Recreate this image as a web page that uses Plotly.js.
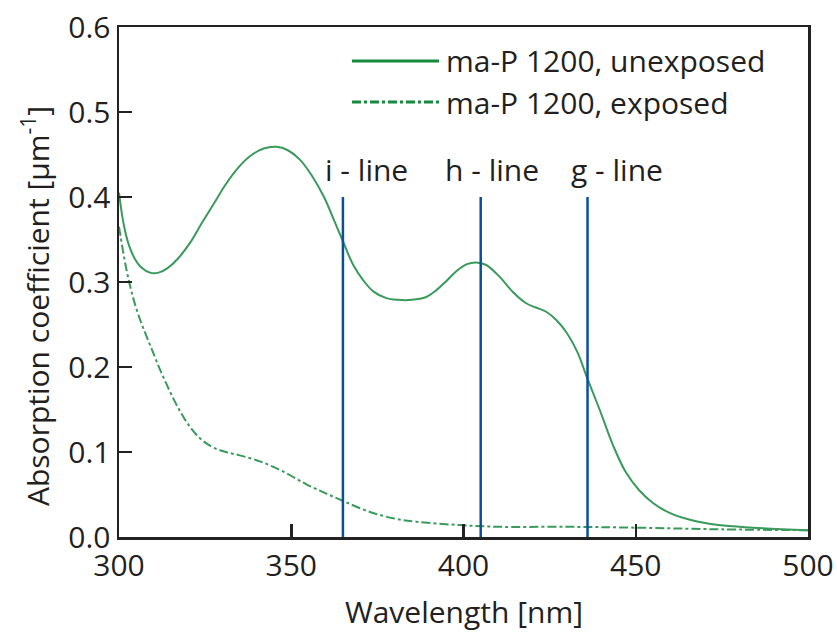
<!DOCTYPE html>
<html><head><meta charset="utf-8">
<script src="https://cdn.plot.ly/plotly-3.0.1.min.js"></script>
<style>html,body{margin:0;padding:0;background:#fff}#plot{width:837px;height:633px}</style>
</head><body><div id="plot"></div>
<script>
// Unexposed ma-P 1200 absorption spectrum
const wlUnexposed = [300, 301, 302, 303, 304.5, 306.5, 309, 311.5, 314, 317, 320.6, 324, 327.5, 331, 334.5, 338, 342, 345.7, 349, 352.5, 356, 359.5, 362.5, 365.3, 368, 370.9, 373.8, 377.6, 381, 385, 389, 392, 395, 398, 401, 403.7, 406.6, 410.5, 414.4, 418.2, 421, 424, 427, 430, 433, 436, 439.5, 443.4, 447, 451, 455, 460, 466, 474, 484, 500];
const absUnexposed = [0.405, 0.376, 0.356, 0.342, 0.328, 0.317, 0.311, 0.311, 0.316, 0.327, 0.346, 0.369, 0.392, 0.415, 0.434, 0.448, 0.457, 0.459, 0.455, 0.444, 0.425, 0.400, 0.372, 0.345, 0.320, 0.302, 0.289, 0.281, 0.279, 0.279, 0.282, 0.290, 0.301, 0.313, 0.321, 0.323, 0.320, 0.306, 0.288, 0.275, 0.270, 0.265, 0.255, 0.240, 0.218, 0.186, 0.150, 0.108, 0.077, 0.055, 0.040, 0.028, 0.020, 0.014, 0.011, 0.008];
// Exposed ma-P 1200 absorption spectrum
const wlExposed = [300, 302, 304, 306, 308, 310, 312, 314, 316, 318, 320, 323, 327, 331, 335.1, 340.9, 347.7, 354.4, 360.2, 365.3, 371.8, 379.6, 386.3, 398.9, 410.5, 430, 450, 475, 500];
const absExposed = [0.365, 0.318, 0.283, 0.257, 0.236, 0.216, 0.196, 0.178, 0.161, 0.146, 0.133, 0.118, 0.106, 0.100, 0.096, 0.089, 0.077, 0.062, 0.051, 0.042, 0.031, 0.022, 0.018, 0.014, 0.012, 0.012, 0.011, 0.009, 0.008];
// Mercury spectral lines
const lineNames = ["i - line", "h - line", "g - line"];
const lineWavelengths = [365, 405, 436];
const lineTop = 0.4;
const seriesNames = ["ma-P 1200, unexposed", "ma-P 1200, exposed"];
const xTicks = [300, 350, 400, 450, 500];
const yTicks = [0.0, 0.1, 0.2, 0.3, 0.4, 0.5, 0.6];
const xTitle = 'Wavelength [nm]';
const yTitle = 'Absorption coefficient [µm<sup>-1</sup>]';

const FONT = 'Open Sans, Noto Sans, sans-serif';
const FS = 30;
const TXT = '#231f20';
const GREEN = '#3a9a5c';
const LEG_GREEN = '#178a3e';
const BLUE = '#0a4f9e';

const W = 837, H = 633, ML = 119, MR = 29, MT = 27, MB = 96;
const pw = W - ML - MR, ph = H - MT - MB;
function px2paperX(px){ return (px - ML) / pw; }
function px2paperY(py){ return 1 - (py - MT) / ph; }

const traces = [];
traces.push({x: wlUnexposed, y: absUnexposed, mode: 'lines', name: seriesNames[0],
  line: {color: GREEN, width: 2, shape: 'spline', smoothing: 1}, showlegend: false});
traces.push({x: wlExposed, y: absExposed, mode: 'lines', name: seriesNames[1],
  line: {color: GREEN, width: 2, dash: 'dashdot', shape: 'spline', smoothing: 1}, showlegend: false});
lineWavelengths.forEach((w, i) => {
  traces.push({x: [w, w], y: [0, lineTop], mode: 'lines', name: lineNames[i],
    line: {color: BLUE, width: 2.5}, showlegend: false, hoverinfo: 'skip'});
});

const labelShift = [24, 11, 29];
const annotations = lineWavelengths.map((w, i) => ({
  x: w, y: 0.432, xref: 'x', yref: 'y', text: lineNames[i], showarrow: false,
  xanchor: 'center', yanchor: 'middle', xshift: labelShift[i],
  font: {family: FONT, size: FS, color: TXT}
}));
const legY = [61, 102];
seriesNames.forEach((n, i) => {
  annotations.push({x: px2paperX(444), y: px2paperY(legY[i]), xref: 'paper', yref: 'paper', text: n,
    showarrow: false, xanchor: 'left', yanchor: 'middle', font: {family: FONT, size: FS, color: TXT}});
});
// axis titles
annotations.push({x: px2paperX(464), y: px2paperY(611), xref: 'paper', yref: 'paper', text: xTitle,
  showarrow: false, xanchor: 'center', yanchor: 'middle', font: {family: FONT, size: FS, color: TXT}});
annotations.push({x: px2paperX(36), y: px2paperY(306), xref: 'paper', yref: 'paper', text: yTitle,
  showarrow: false, textangle: -90, xanchor: 'center', yanchor: 'middle', font: {family: FONT, size: FS, color: TXT}});

const shapes = [
  {type: 'line', xref: 'paper', yref: 'paper', x0: px2paperX(352), x1: px2paperX(439), y0: px2paperY(61), y1: px2paperY(61), line: {color: LEG_GREEN, width: 3}},
  {type: 'line', xref: 'paper', yref: 'paper', x0: px2paperX(352), x1: px2paperX(439), y0: px2paperY(102), y1: px2paperY(102), line: {color: LEG_GREEN, width: 3, dash: 'dashdot'}}
];

const axisCommon = {
  ticks: 'inside', ticklen: 13, tickwidth: 2.5, tickcolor: '#222',
  showline: true, linecolor: '#222', linewidth: 2.5, mirror: true,
  showgrid: false, zeroline: false,
  tickfont: {family: FONT, size: FS, color: TXT}
};
const layout = {
  width: W, height: H,
  margin: {l: ML, r: MR, t: MT, b: MB},
  paper_bgcolor: '#fff', plot_bgcolor: '#fff',
  font: {family: FONT, color: TXT, size: FS},
  xaxis: Object.assign({range: [300, 500], tickvals: xTicks, ticktext: xTicks.map(String)}, axisCommon),
  yaxis: Object.assign({range: [0, 0.6], tickvals: yTicks, ticktext: yTicks.map(v => v.toFixed(1))}, axisCommon),
  annotations: annotations,
  shapes: shapes,
  showlegend: false
};
Plotly.newPlot('plot', traces, layout, {displayModeBar: false, staticPlot: true});
</script></body></html>
